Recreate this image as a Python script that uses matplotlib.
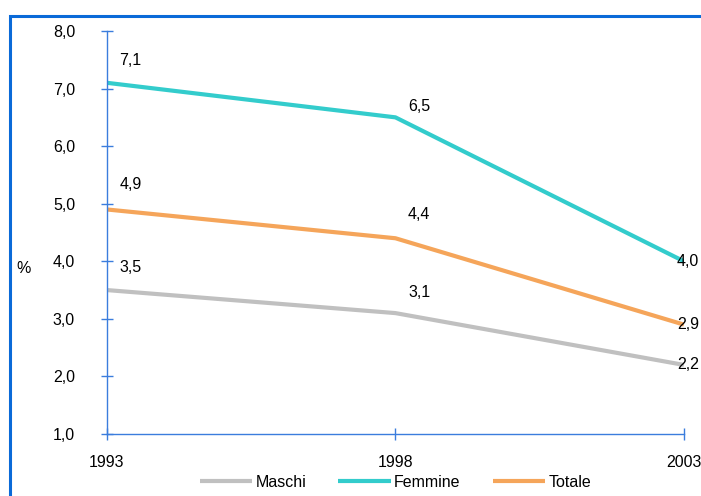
import matplotlib.pyplot as plt
from matplotlib.patches import Rectangle

years = [1993, 1998, 2003]
maschi = [3.5, 3.1, 2.2]
femmine = [7.1, 6.5, 4.0]
totale = [4.9, 4.4, 2.9]

plt.rcParams['font.family'] = ['Liberation Sans', 'DejaVu Sans']

fig = plt.figure(figsize=(7.01, 4.96), dpi=100)
ax = fig.add_axes([0.1526, 0.125, 0.823, 0.8125])

blue = '#3b7ddd'
series = [
    ('Maschi', maschi, '#c0c0c0'),
    ('Femmine', femmine, '#33cccc'),
    ('Totale', totale, '#f5a55a'),
]
# label offsets in points for the first two points of each series
offsets = {'Maschi': [(17, 16), (17, 15)],
           'Femmine': [(17, 16), (17, 8)],
           'Totale': [(17, 18), (17, 17)]}
for name, vals, col in series:
    ax.plot(years, vals, color=col, lw=3, label=name, solid_capstyle='butt')
    for i, (x, v) in enumerate(zip(years, vals)):
        txt = ('%.1f' % v).replace('.', ',')
        if i == len(years) - 1:
            ax.annotate(txt, (x, v), xytext=(-5, 0), textcoords='offset points',
                        ha='left', va='center', fontsize=11.5, clip_on=False)
        else:
            ax.annotate(txt, (x, v), xytext=offsets[name][i], textcoords='offset points',
                        ha='center', va='center', fontsize=11.5)

ax.set_xlim(1993, 2003)
ax.set_ylim(1, 8)
ax.set_xticks(years)
ax.set_yticks(range(1, 9))
ax.set_yticklabels([('%.1f' % t).replace('.', ',') for t in range(1, 9)])
ax.tick_params(axis='both', direction='inout', length=8, width=1, color=blue,
               labelsize=11.5)
ax.tick_params(axis='y', pad=19)
ax.tick_params(axis='x', pad=11)
for s in ['top', 'right']:
    ax.spines[s].set_visible(False)
for s in ['left', 'bottom']:
    ax.spines[s].set_color(blue)
    ax.spines[s].set_linewidth(1)
ax.set_ylabel('%', rotation=0, fontsize=11.5, labelpad=0, va='center')
ax.yaxis.set_label_coords(-0.145, 0.41)

leg = ax.legend(loc='center', bbox_to_anchor=(0.5, -0.12), ncol=3, frameon=False,
                fontsize=11.5, handlelength=3.3, handletextpad=0.2, columnspacing=2.0)

# blue frame around the chart area
fig.patches.append(Rectangle((9.5 / 701, -0.1), 1.2, 1 - 16 / 496 + 0.1,
                             transform=fig.transFigure, fill=False,
                             edgecolor='#0a6ad8', lw=2.2))

fig.savefig('out.png', dpi=100)
